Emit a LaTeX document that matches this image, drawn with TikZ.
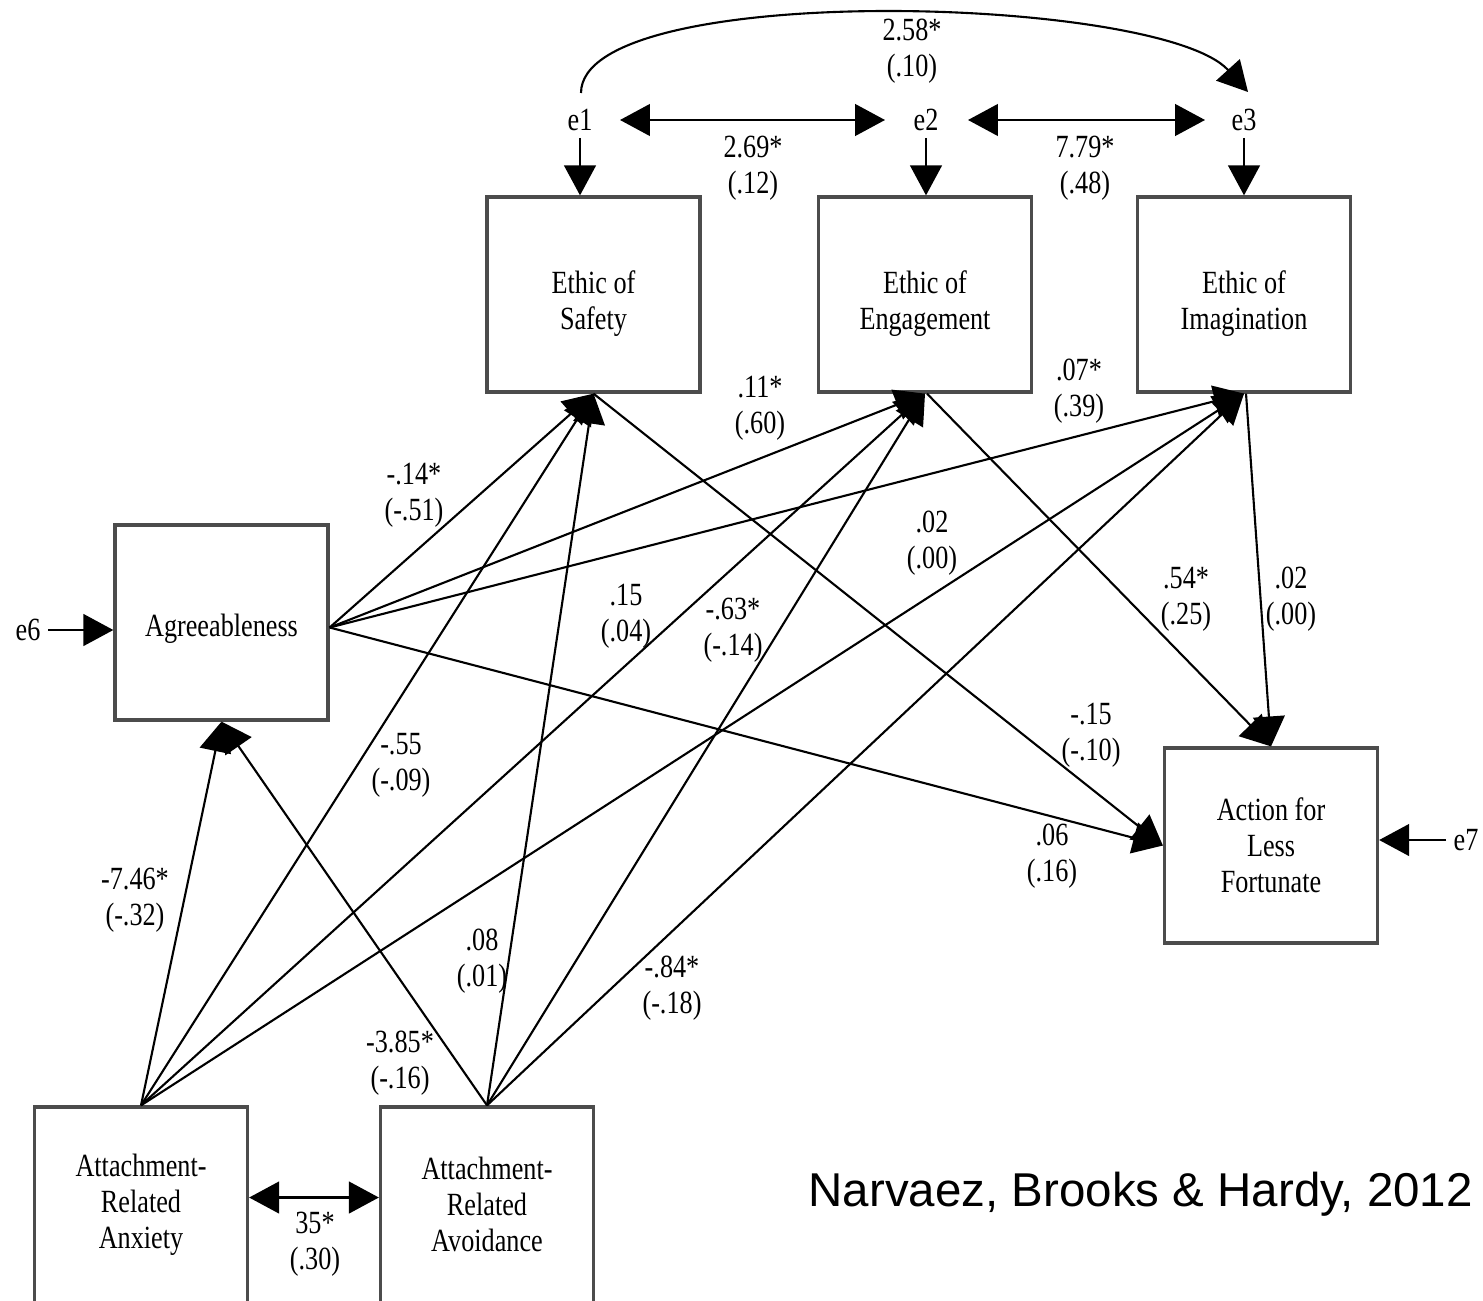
\documentclass[tikz,border=0pt]{standalone}
\usepackage{fontspec}
\setmainfont{Liberation Serif}[FakeStretch=0.81]
\newfontfamily\citefont{Liberation Sans}
\usetikzlibrary{arrows.meta,calc}
\begin{document}
\begin{tikzpicture}[x=0.01cm,y=-0.01cm,
  >={Triangle[length=8.5pt,width=9pt]},
  box/.style={draw=black!70,line width=0.9pt,minimum width=2.13cm,minimum height=1.95cm,inner sep=0pt,align=center,font=\fontsize{9.2}{10.2}\selectfont},
  boxtxt/.style={align=center,inner sep=0pt,font=\fontsize{9.2}{10.2}\selectfont},
  lab/.style={align=center,inner sep=0pt,font=\fontsize{9.2}{10.2}\selectfont},
  evar/.style={inner sep=0pt,font=\fontsize{9.2}{10.2}\selectfont},
  conn/.style={draw=black,line width=0.6pt,->},
  dbl/.style={draw=black,line width=0.6pt,<->}]
\clip (0,0) rectangle (1483,1300);
\fill[white] (0,0) rectangle (1483,1300);

% boxes
\node[box] (saf) at (593.5,294.5) {};
\node[box] (eng) at (925,294.5) {};
\node[box] (img) at (1244,294.5) {};
\node[box] (agr) at (221.5,622.5) {};
\node[box] (act) at (1271,845.5) {Action for\\Less\\Fortunate};
\node[box] (anx) at (141,1204.5) {Attachment-\\Related\\Anxiety};
\node[box] (avo) at (487,1204.5) {Attachment-\\Related\\Avoidance};

\node[boxtxt] (saft) at (593.5,304) {Ethic of\\Safety};
\node[boxtxt] (engt) at (925,304) {Ethic of\\Engagement};
\node[boxtxt] (imgt) at (1244,304) {Ethic of\\Imagination};
\node[boxtxt] (agrt) at (221.5,629) {Agreeableness};

% error terms
\node[evar] (e1) at (580,120) {e1};
\node[evar] (e2) at (926,120) {e2};
\node[evar] (e3) at (1244,120) {e3};
\node[evar] (e6) at (28,630) {e6};
\node[evar] (e7) at (1466,840) {e7};

\draw[conn] ($(e1)+(0,18)$) -- (e1 |- saf.north);
\draw[conn] ($(e2)+(0,18)$) -- (e2 |- eng.north);
\draw[conn] ($(e3)+(0,18)$) -- (e3 |- img.north);
\draw[conn] ($(e6)+(20,0)$) -- (e6 -| agr.west);
\draw[conn] ($(e7)+(-20,0)$) -- (e7 -| act.east);

\draw[dbl] ($(e1)+(40,0)$) -- ($(e2)+(-41,0)$);
\draw[dbl] ($(e2)+(42,0)$) -- ($(e3)+(-39,0)$);
\draw[conn] ($(e1)+(1,-27)$) .. controls (581,-20) and (1160,-5) .. ($(e3)+(4,-28)$);

% paths from Agreeableness
\coordinate (agrout) at ($(agr.east)+(0,5)$);
\draw[conn] (agrout) -- (saf.south);
\draw[conn] (agrout) -- (eng.south);
\draw[conn] (agrout) -- (img.south);
\draw[conn] (agrout) -- (act.west);

% paths from Anxiety
\draw[conn] (anx.north) -- (agr.south);
\draw[conn] (anx.north) -- (saf.south);
\draw[conn] (anx.north) -- (eng.south);
\draw[conn] (anx.north) -- (img.south);

% paths from Avoidance
\draw[conn] (avo.north) -- (agr.south);
\draw[conn] (avo.north) -- (saf.south);
\draw[conn] (avo.north) -- (eng.south);
\draw[conn] (avo.north) -- (img.south);

% paths to Action
\draw[conn] (saf.south) -- (act.west);
\draw[conn] ($(eng.south)+(2,0)$) -- (act.north);
\draw[conn] ($(img.south)+(2,0)$) -- (act.north);

% covariance between attachment dimensions
\draw[dbl] ($(anx.east)+(0,-7)$) -- ($(avo.west)+(0,-7)$);

% coefficient labels
\node[lab] (l1) at (912,51) {2.58*\\(.10)};
\node[lab] (l2) at (753,168) {2.69*\\(.12)};
\node[lab] (l3) at (1085,168) {7.79*\\(.48)};
\node[lab] (l4) at (414,495) {-.14*\\(-.51)};
\node[lab] (l5) at (760,408) {.11*\\(.60)};
\node[lab] (l6) at (1079,391) {.07*\\(.39)};
\node[lab] (l7) at (932,543) {.02\\(.00)};
\node[lab] (l8) at (626,616) {.15\\(.04)};
\node[lab] (l9) at (733,630) {-.63*\\(-.14)};
\node[lab] (l10) at (1186,599) {.54*\\(.25)};
\node[lab] (l11) at (1291,599) {.02\\(.00)};
\node[lab] (l12) at (401,765) {-.55\\(-.09)};
\node[lab] (l13) at (1091,735) {-.15\\(-.10)};
\node[lab] (l14) at (1052,856) {.06\\(.16)};
\node[lab] (l15) at (135,900) {-7.46*\\(-.32)};
\node[lab] (l16) at (482,961) {.08\\(.01)};
\node[lab] (l17) at (672,988) {-.84*\\(-.18)};
\node[lab] (l18) at (400,1063) {-3.85*\\(-.16)};
\node[lab] (l19) at (315,1244) {35*\\(.30)};

% citation
\node[anchor=base west,inner sep=0pt,font=\citefont\fontsize{13.5}{15}\selectfont] (cite) at (808,1206) {Narvaez, Brooks \& Hardy, 2012};
\end{tikzpicture}
\end{document}
